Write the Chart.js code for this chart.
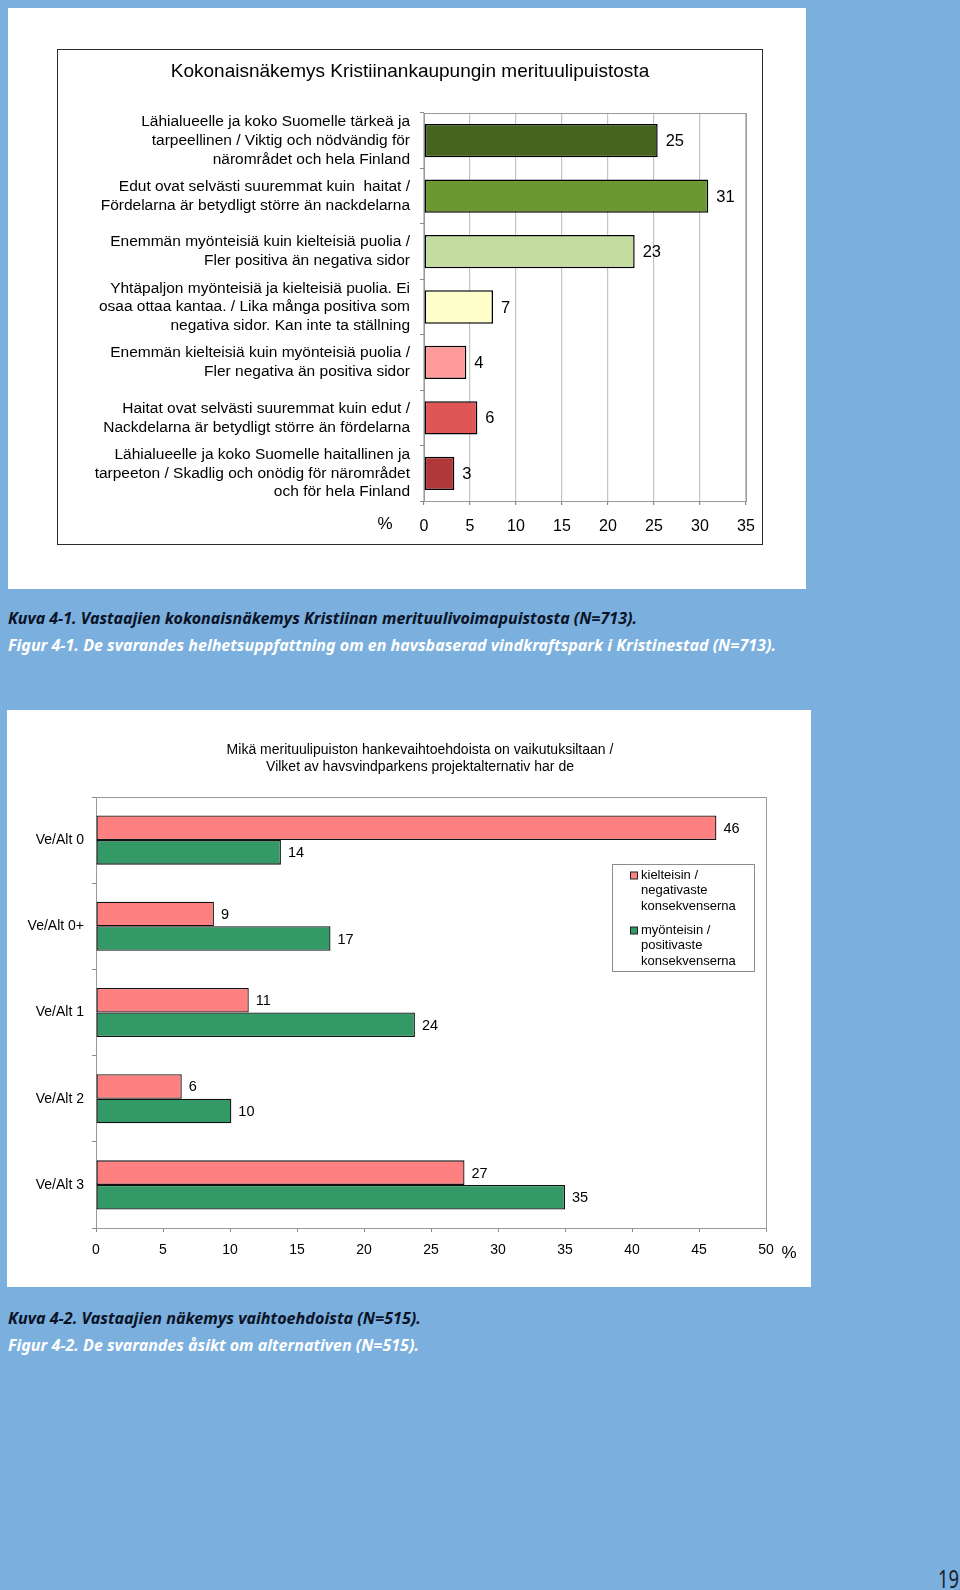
<!DOCTYPE html>
<html>
<head>
<meta charset="utf-8">
<script src="https://cdn.jsdelivr.net/npm/chart.js@4.4.1/dist/chart.umd.min.js"></script>
<style>
html,body{margin:0;padding:0;}
body{width:960px;height:1590px;background:#7aafde;position:relative;overflow:hidden;}
.panel{position:absolute;background:#fff;}
#p1{left:8px;top:8px;width:798px;height:581px;}
#frame1{position:absolute;left:57px;top:49px;width:704px;height:494px;border:1px solid #2a2a2a;background:#fff;}
#c1wrap{position:absolute;left:58px;top:50px;width:704px;height:494px;}
#p2{left:7px;top:710px;width:804px;height:577px;}
#c2wrap{position:absolute;left:7px;top:710px;width:804px;height:577px;}
.cap{position:absolute;left:8px;font-family:"Noto Sans",sans-serif;font-style:italic;font-weight:700;font-size:15.5px;line-height:20px;white-space:nowrap;transform-origin:left center;}
.fi{color:#0b1326;}
.sv{color:#fff;}
#pg{position:absolute;left:938px;top:1563px;font-family:"Noto Sans",sans-serif;font-size:26px;line-height:30px;color:#1a2230;white-space:nowrap;transform-origin:left center;}
</style>
</head>
<body>
<div class="panel" id="p1"></div>
<div id="frame1"></div>
<div id="c1wrap"><canvas id="chart1"></canvas></div>
<div class="cap fi" style="top:608px" data-w="629">Kuva 4-1. Vastaajien kokonaisnäkemys Kristiinan merituulivoimapuistosta (N=713).</div>
<div class="cap sv" style="top:635px" data-w="768">Figur 4-1. De svarandes helhetsuppfattning om en havsbaserad vindkraftspark i Kristinestad (N=713).</div>
<div class="panel" id="p2"></div>
<div id="c2wrap"><canvas id="chart2"></canvas></div>
<div class="cap fi" style="top:1308px" data-w="413">Kuva 4-2. Vastaajien näkemys vaihtoehdoista (N=515).</div>
<div class="cap sv" style="top:1335px" data-w="411">Figur 4-2. De svarandes åsikt om alternativen (N=515).</div>
<div id="pg" data-w="21">19</div>
<script>
// ---- chart 1 data ----
const title1 = "Kokonaisnäkemys Kristiinankaupungin merituulipuistosta";
const categories1 = [
  ["Lähialueelle ja koko Suomelle tärkeä ja","tarpeellinen / Viktig och nödvändig för","närområdet och hela Finland"],
  ["Edut ovat selvästi suuremmat kuin  haitat /","Fördelarna är betydligt större än nackdelarna"],
  ["Enemmän myönteisiä kuin kielteisiä puolia /","Fler positiva än negativa sidor"],
  ["Yhtäpaljon myönteisiä ja kielteisiä puolia. Ei","osaa ottaa kantaa. / Lika många positiva som","negativa sidor. Kan inte ta ställning"],
  ["Enemmän kielteisiä kuin myönteisiä puolia /","Fler negativa än positiva sidor"],
  ["Haitat ovat selvästi suuremmat kuin edut /","Nackdelarna är betydligt större än fördelarna"],
  ["Lähialueelle ja koko Suomelle haitallinen ja","tarpeeton / Skadlig och onödig för närområdet","och för hela Finland"]
];
const values1 = [25.4, 30.9, 22.9, 7.5, 4.6, 5.8, 3.3];
const valueText1 = ["25","31","23","7","4","6","3"];
const barColors1 = ["#46641f","#6b9833","#c4dca0","#ffffcc","#ff9b9b","#e05656","#b0373a"];
const xMax1 = 35, xStep1 = 5;

// ---- chart 2 data ----
const title2 = ["Mikä merituulipuiston hankevaihtoehdoista on vaikutuksiltaan /","Vilket av havsvindparkens projektalternativ har de"];
const categories2 = ["Ve/Alt 0","Ve/Alt 0+","Ve/Alt 1","Ve/Alt 2","Ve/Alt 3"];
const negative2 = [46.3, 8.8, 11.4, 6.4, 27.5];
const positive2 = [13.8, 17.5, 23.8, 10.1, 35.0];
const negativeText2 = ["46","9","11","6","27"];
const positiveText2 = ["14","17","24","10","35"];
const seriesNames2 = [["kielteisin /","negativaste","konsekvenserna"],["myönteisin /","positivaste","konsekvenserna"]];
const seriesColors2 = ["#ff8080","#339966"];
const xMax2 = 50, xStep2 = 5;

const FONT = "'Liberation Sans', Arial, sans-serif";
Chart.defaults.font.family = FONT;
Chart.defaults.color = "#000";

// text after each bar end
function valueLabels(texts, size, gap){
  return {
    id:'valueLabels',
    afterDatasetsDraw(chart){
      const ctx = chart.ctx;
      ctx.save();
      ctx.font = size + "px " + FONT; ctx.fillStyle = '#000';
      ctx.textAlign = 'left'; ctx.textBaseline = 'middle';
      texts.forEach((arr,i)=>{
        chart.getDatasetMeta(i).data.forEach((bar,j)=>ctx.fillText(arr[j], bar.x + gap, bar.y + 1));
      });
      ctx.restore();
    }
  };
}
// grey frame round the plot area
const plotFrame = {
  id:'plotFrame',
  beforeDatasetsDraw(chart){
    const {ctx, chartArea:a} = chart;
    ctx.save();
    ctx.strokeStyle = '#9a9a9a'; ctx.lineWidth = 1;
    ctx.strokeRect(Math.round(a.left)+0.5, Math.round(a.top)+0.5, Math.round(a.width), Math.round(a.height));
    ctx.restore();
  }
};
function percentSign(dx, dy, fromRight){
  return {
    id:'percentSign',
    afterDraw(chart){
      const {ctx, chartArea:a} = chart;
      ctx.save();
      ctx.font = "17px " + FONT;
      ctx.textAlign = 'center'; ctx.textBaseline = 'middle'; ctx.fillStyle = '#000';
      ctx.fillText('%', (fromRight ? a.right : a.left) + dx, a.bottom + dy);
      ctx.restore();
    }
  };
}
// two-line heading of the second chart, centred a bit right of the canvas middle
const heading2 = {
  id:'heading2',
  afterDraw(chart){
    const ctx = chart.ctx;
    ctx.save();
    ctx.font = "14px " + FONT;
    ctx.textAlign = 'center'; ctx.textBaseline = 'middle'; ctx.fillStyle = '#000';
    title2.forEach((t,i)=>ctx.fillText(t, chart.width/2 + 11, 40 + i*17));
    ctx.restore();
  }
};
const legendBox2 = {
  id:'legendBox2',
  afterDraw(chart){
    const {ctx, chartArea:a} = chart;
    const x = a.left + 516, y = a.top + 67, w = 142, h = 107;
    ctx.save();
    ctx.fillStyle = '#fff'; ctx.fillRect(x, y, w, h);
    ctx.strokeStyle = '#8c8c8c'; ctx.lineWidth = 1;
    ctx.strokeRect(x+0.5, y+0.5, w, h);
    ctx.font = "13px " + FONT;
    ctx.textBaseline = 'middle'; ctx.textAlign = 'left';
    seriesNames2.forEach((lines,i)=>{
      const top = y + 11.5 + i*55;
      ctx.fillStyle = seriesColors2[i];
      ctx.fillRect(x+18.5, top-3.5, 7, 7);
      ctx.strokeStyle = '#222';
      ctx.strokeRect(x+18.5, top-3.5, 7, 7);
      ctx.fillStyle = '#000';
      lines.forEach((t,k)=>ctx.fillText(t, x+29, top + k*15.3));
    });
    ctx.restore();
  }
};

new Chart(document.getElementById('chart1'),{
  type:'bar',
  data:{labels:categories1,
    datasets:[{data:values1, backgroundColor:barColors1, borderColor:'#000', borderWidth:1.5, borderSkipped:false,
      barPercentage:0.6, categoryPercentage:1}]},
  options:{
    indexAxis:'y', responsive:true, maintainAspectRatio:false, animation:false, devicePixelRatio:1,
    layout:{padding:{left:16,right:16,top:0,bottom:0}},
    plugins:{
      legend:{display:false}, tooltip:{enabled:false},
      title:{display:true, text:title1, font:{size:19, weight:'normal', lineHeight:1.2}, color:'#000', padding:{top:10.6,bottom:29.6}}
    },
    scales:{
      x:{min:0, max:xMax1, ticks:{stepSize:xStep1, font:{size:16}, padding:11.5, color:'#000'},
         grid:{color:'#c4c4c4', lineWidth:1.2, tickLength:4, tickColor:'#888'},
         border:{color:'#888'},
         afterFit(s){s.height = 43; s.paddingLeft = 0; s.paddingRight = 0;}},
      y:{ticks:{font:{size:15.5, lineHeight:1.21}, padding:10, color:'#000', autoSkip:false},
         grid:{drawOnChartArea:false, tickLength:4, color:'#888'},
         border:{color:'#888'},
         afterFit(s){s.width = 350;}}
    }
  },
  plugins:[plotFrame, valueLabels([valueText1], 16.5, 8), percentSign(-39, 23, false)]
});

new Chart(document.getElementById('chart2'),{
  type:'bar',
  data:{labels:categories2,
    datasets:[
      {label:seriesNames2[0].join(' '), data:negative2, backgroundColor:seriesColors2[0], borderColor:'#111', borderWidth:1.3, borderSkipped:false, barPercentage:1, categoryPercentage:0.57},
      {label:seriesNames2[1].join(' '), data:positive2, backgroundColor:seriesColors2[1], borderColor:'#111', borderWidth:1.3, borderSkipped:false, barPercentage:1, categoryPercentage:0.57}
    ]},
  options:{
    indexAxis:'y', responsive:true, maintainAspectRatio:false, animation:false, devicePixelRatio:1,
    layout:{padding:{left:0,right:45,top:87,bottom:0}},
    plugins:{legend:{display:false}, tooltip:{enabled:false}, title:{display:false}},
    scales:{
      x:{min:0, max:xMax2, ticks:{stepSize:xStep2, font:{size:14}, padding:9.6, color:'#000'},
         grid:{drawOnChartArea:false, tickLength:4, color:'#888'},
         border:{color:'#888'},
         afterFit(s){s.height = 59; s.paddingLeft = 0; s.paddingRight = 0;}},
      y:{ticks:{font:{size:14}, padding:8, color:'#000', autoSkip:false},
         grid:{drawOnChartArea:false, tickLength:4, color:'#888'},
         border:{color:'#888'},
         afterFit(s){s.width = 89;}}
    }
  },
  plugins:[plotFrame, valueLabels([negativeText2, positiveText2], 14.5, 7), percentSign(23, 25, true), heading2, legendBox2]
});

// squeeze caption lines to the condensed width of the original type
document.querySelectorAll('[data-w]').forEach(el=>{
  const w = el.getBoundingClientRect().width;
  if (w > 0) el.style.transform = `scaleX(${(+el.dataset.w)/w})`;
});
</script>
</body>
</html>
